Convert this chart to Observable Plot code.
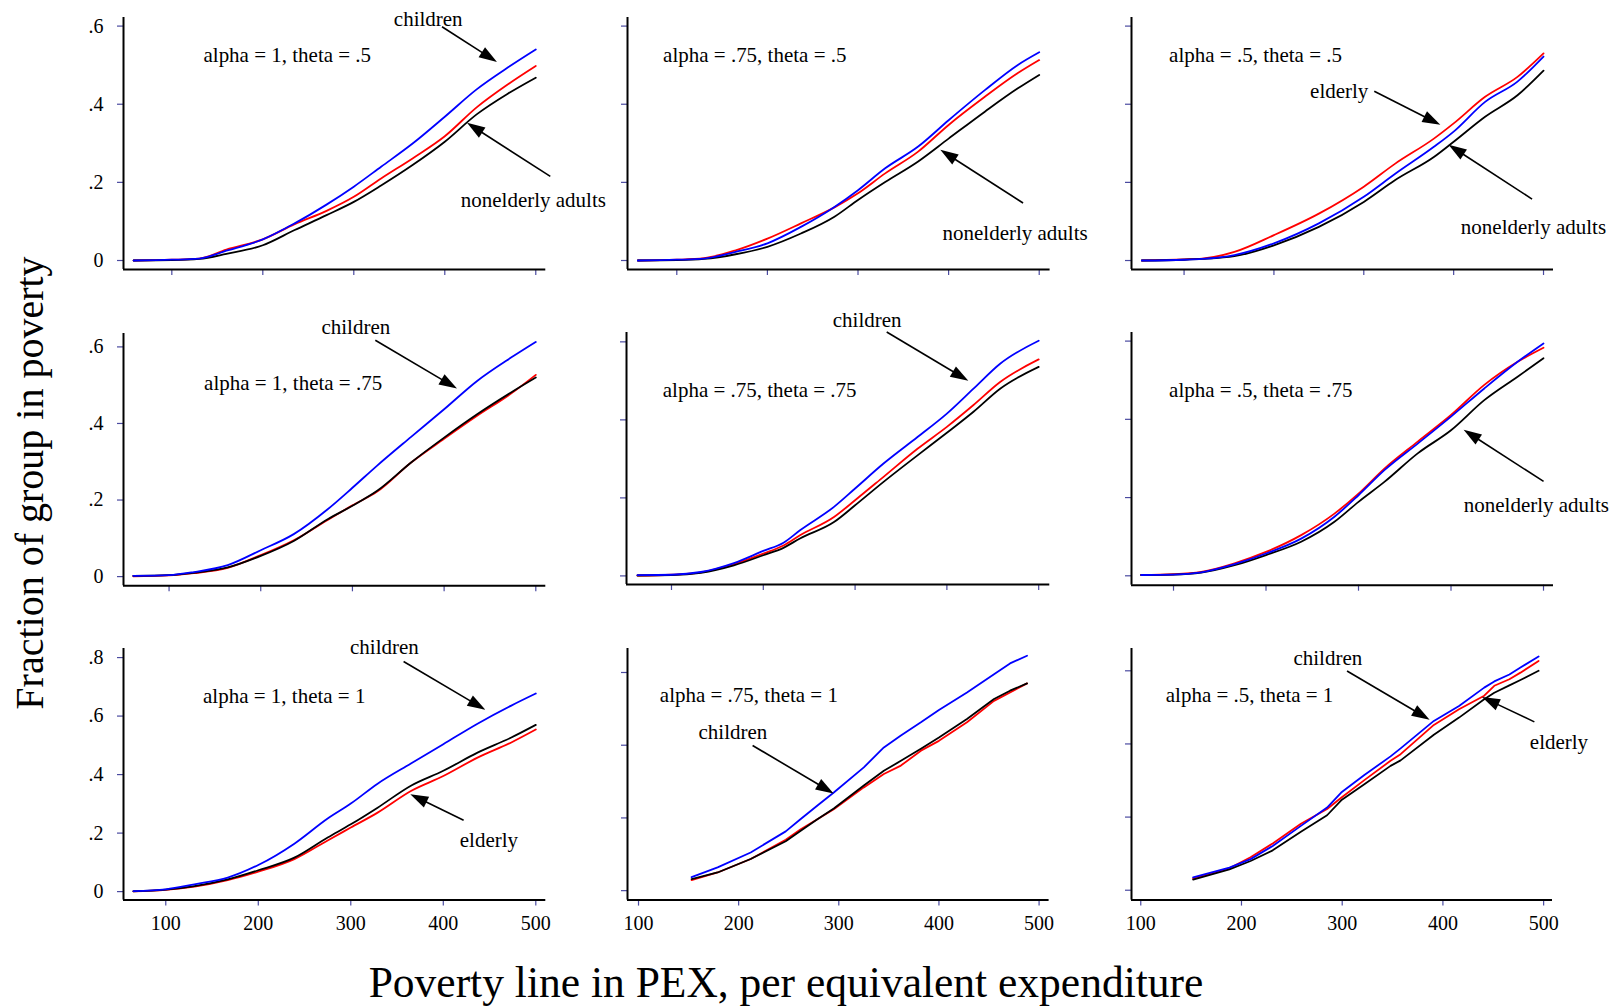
<!DOCTYPE html>
<html>
<head>
<meta charset="utf-8">
<script src="https://cdn.jsdelivr.net/npm/d3@7"></script>
<script src="https://cdn.jsdelivr.net/npm/@observablehq/plot@0.6"></script>
<style>
  html, body { margin: 0; padding: 0; background: white; }
  #root { position: relative; width: 1616px; height: 1008px; overflow: hidden; background: white; font-family: "Liberation Serif", "DejaVu Serif", serif; }
  #ytitle { position: absolute; left: 30px; top: 483px; transform: translate(-50%, -50%) rotate(-90deg); font-size: 40px; line-height: 1; white-space: nowrap; color: black; }
  #xtitle { position: absolute; left: 786px; top: 983px; transform: translate(-50%, -50%); font-size: 43.5px; line-height: 1; white-space: nowrap; color: black; }
</style>
</head>
<body>
<div id="root">
  <div id="ytitle">Fraction of group in poverty</div>
  <div id="xtitle">Poverty line in PEX, per equivalent expenditure</div>
</div>
<script>
// ---------------- data ----------------
const xTicks = [100, 200, 300, 400, 500];
const yTicksTopMid = [0, 0.2, 0.4, 0.6];
const yTicksBottomLeft = [0, 0.2, 0.4, 0.6, 0.8];

// alpha = 1, theta = .5
const x_a1_t05 = [58, 100, 130, 160, 200, 235, 270, 300, 330, 365, 400, 435, 470, 500];
const children_a1_t05 = [0, 0.002, 0.005, 0.025, 0.054, 0.095, 0.143, 0.189, 0.24, 0.30, 0.368, 0.438, 0.495, 0.540];
const elderly_a1_t05 = [0, 0.002, 0.005, 0.028, 0.054, 0.093, 0.127, 0.163, 0.21, 0.262, 0.318, 0.392, 0.452, 0.498];
const adults_a1_t05 = [0, 0.001, 0.004, 0.017, 0.039, 0.078, 0.116, 0.150, 0.192, 0.245, 0.304, 0.374, 0.428, 0.468];

// alpha = .75, theta = .5
const x_a075_t05 = [57, 100, 130, 165, 200, 237, 274, 300, 330, 366, 400, 440, 476, 500];
const children_a075_t05 = [0, 0.002, 0.005, 0.022, 0.044, 0.086, 0.137, 0.18, 0.236, 0.291, 0.359, 0.436, 0.50, 0.533];
const elderly_a075_t05 = [0, 0.002, 0.006, 0.026, 0.056, 0.095, 0.136, 0.172, 0.223, 0.278, 0.347, 0.419, 0.479, 0.513];
const adults_a075_t05 = [0, 0.001, 0.004, 0.016, 0.035, 0.069, 0.112, 0.155, 0.201, 0.253, 0.312, 0.381, 0.44, 0.475];

// alpha = .5, theta = .5
const x_a05_t05 = [53, 100, 120, 156, 200, 250, 300, 335, 378, 400, 435, 471, 500];
const children_a05_t05 = [0, 0.002, 0.004, 0.014, 0.044, 0.095, 0.163, 0.222, 0.291, 0.33, 0.406, 0.458, 0.522];
const elderly_a05_t05 = [0, 0.003, 0.005, 0.022, 0.065, 0.12, 0.189, 0.248, 0.312, 0.351, 0.419, 0.47, 0.530];
const adults_a05_t05 = [0, 0.002, 0.004, 0.011, 0.039, 0.086, 0.15, 0.206, 0.265, 0.304, 0.368, 0.423, 0.486];

// alpha = 1, theta = .75
const x_a1_t075 = [61, 100, 127, 164, 200, 236, 273, 300, 327, 364, 400, 436, 473, 500];
const children_a1_t075 = [0.002, 0.004, 0.012, 0.03, 0.069, 0.111, 0.176, 0.232, 0.29, 0.365, 0.437, 0.511, 0.572, 0.613];
const elderly_a1_t075 = [0.001, 0.003, 0.009, 0.023, 0.056, 0.095, 0.148, 0.186, 0.222, 0.298, 0.36, 0.42, 0.478, 0.527];
const adults_a1_t075 = [0.002, 0.004, 0.010, 0.024, 0.054, 0.093, 0.15, 0.185, 0.224, 0.298, 0.363, 0.424, 0.481, 0.52];

// alpha = .75, theta = .75
const x_a075_t075 = [63, 100, 132, 168, 200, 222, 240, 277, 300, 331, 368, 400, 429, 458, 500];
const children_a075_t075 = [0.002, 0.003, 0.010, 0.033, 0.064, 0.085, 0.117, 0.177, 0.224, 0.288, 0.356, 0.416, 0.48, 0.544, 0.603];
const elderly_a075_t075 = [0.001, 0.003, 0.009, 0.030, 0.057, 0.078, 0.104, 0.151, 0.194, 0.254, 0.326, 0.382, 0.438, 0.497, 0.555];
const adults_a075_t075 = [0.001, 0.002, 0.008, 0.027, 0.053, 0.072, 0.096, 0.138, 0.181, 0.241, 0.309, 0.367, 0.421, 0.48, 0.536];

// alpha = .5, theta = .75
const x_a05_t075 = [65, 100, 130, 166, 200, 238, 274, 300, 328, 364, 400, 436, 472, 500];
const children_a05_t075 = [0.002, 0.003, 0.009, 0.030, 0.057, 0.095, 0.151, 0.206, 0.27, 0.338, 0.407, 0.479, 0.547, 0.594];
const elderly_a05_t075 = [0.002, 0.004, 0.010, 0.032, 0.061, 0.104, 0.159, 0.21, 0.274, 0.343, 0.411, 0.488, 0.547, 0.583];
const adults_a05_t075 = [0.002, 0.003, 0.008, 0.027, 0.053, 0.087, 0.138, 0.189, 0.24, 0.313, 0.372, 0.449, 0.509, 0.556];

// alpha = 1, theta = 1
const x_a1_t1 = [65, 100, 131, 167, 200, 239, 275, 300, 329, 365, 400, 437, 473, 500];
const children_a1_t1 = [0.002, 0.008, 0.025, 0.048, 0.091, 0.164, 0.25, 0.301, 0.369, 0.438, 0.504, 0.574, 0.635, 0.677];
const elderly_a1_t1 = [0.001, 0.006, 0.017, 0.039, 0.068, 0.111, 0.175, 0.219, 0.27, 0.344, 0.395, 0.458, 0.509, 0.554];
const adults_a1_t1 = [0.001, 0.007, 0.019, 0.042, 0.073, 0.116, 0.185, 0.23, 0.287, 0.362, 0.413, 0.475, 0.526, 0.57];

// alpha = .75, theta = 1
const x_a075_t1 = [153, 179, 212, 247, 262, 279, 295, 325, 345, 362, 382, 400, 428, 455, 471, 488];
const children_a075_t1 = [0.037, 0.064, 0.105, 0.163, 0.197, 0.235, 0.27, 0.339, 0.394, 0.427, 0.463, 0.497, 0.545, 0.595, 0.625, 0.646];
const elderly_a075_t1 = [0.029, 0.05, 0.087, 0.14, 0.169, 0.197, 0.224, 0.284, 0.321, 0.344, 0.385, 0.412, 0.463, 0.522, 0.545, 0.57];
const adults_a075_t1 = [0.032, 0.05, 0.087, 0.136, 0.165, 0.197, 0.226, 0.289, 0.33, 0.357, 0.39, 0.421, 0.472, 0.527, 0.55, 0.57];

// alpha = .5, theta = 1
const x_a05_t1 = [152, 188, 209, 231, 259, 285, 299, 322, 348, 358, 391, 416, 441, 451, 466, 477, 495];
const children_a05_t1 = [0.035, 0.062, 0.085, 0.121, 0.176, 0.226, 0.267, 0.315, 0.366, 0.388, 0.463, 0.504, 0.554, 0.571, 0.59, 0.609, 0.639];
const elderly_a05_t1 = [0.032, 0.06, 0.09, 0.128, 0.182, 0.222, 0.253, 0.301, 0.354, 0.372, 0.452, 0.495, 0.532, 0.559, 0.577, 0.595, 0.627];
const adults_a05_t1 = [0.029, 0.057, 0.08, 0.109, 0.16, 0.205, 0.246, 0.29, 0.34, 0.355, 0.425, 0.472, 0.522, 0.54, 0.56, 0.575, 0.6];

// annotation labels and arrows (data units)
const labels_a1_t05 = [
  {text: "alpha = 1, theta = .5", x: 134.8, y: 0.526},
  {text: "children", x: 344, y: 0.618},
  {text: "nonelderly adults", x: 417.6, y: 0.154}
];
const arrows_a1_t05 = [
  {x1: 397.5, y1: 0.597, x2: 457.9, y2: 0.507},
  {x1: 516.5, y1: 0.214, x2: 425, y2: 0.351}
];
const labels_a075_t05 = [
  {text: "alpha = .75, theta = .5", x: 84.9, y: 0.526},
  {text: "nonelderly adults", x: 393.3, y: 0.07}
];
const arrows_a075_t05 = [
  {x1: 482.7, y1: 0.146, x2: 391.4, y2: 0.282}
];
const labels_a05_t05 = [
  {text: "alpha = .5, theta = .5", x: 83.3, y: 0.526},
  {text: "elderly", x: 240.2, y: 0.434},
  {text: "nonelderly adults", x: 408, y: 0.086}
];
const arrows_a05_t05 = [
  {x1: 312.2, y1: 0.432, x2: 385.7, y2: 0.346},
  {x1: 487.8, y1: 0.156, x2: 394.9, y2: 0.295}
];
const labels_a1_t075 = [
  {text: "alpha = 1, theta = .75", x: 138.2, y: 0.505},
  {text: "children", x: 266.2, y: 0.650}
];
const arrows_a1_t075 = [
  {x1: 325.5, y1: 0.616, x2: 414.6, y2: 0.49}
];
const labels_a075_t075 = [
  {text: "alpha = .75, theta = .75", x: 90.5, y: 0.476},
  {text: "children", x: 275.7, y: 0.656}
];
const arrows_a075_t075 = [
  {x1: 335, y1: 0.624, x2: 423.9, y2: 0.499}
];
const labels_a05_t075 = [
  {text: "alpha = .5, theta = .75", x: 95.2, y: 0.475},
  {text: "nonelderly adults", x: 413.8, y: 0.181}
];
const arrows_a05_t075 = [
  {x1: 500.6, y1: 0.24, x2: 414.2, y2: 0.372}
];
const labels_a1_t1 = [
  {text: "alpha = 1, theta = 1", x: 140.3, y: 0.669},
  {text: "children", x: 299.2, y: 0.834},
  {text: "elderly", x: 417.8, y: 0.177}
];
const arrows_a1_t1 = [
  {x1: 357.6, y1: 0.785, x2: 446, y2: 0.62},
  {x1: 422.5, y1: 0.242, x2: 364.9, y2: 0.331}
];
const labels_a075_t1 = [
  {text: "alpha = .75, theta = 1", x: 121.3, y: 0.536},
  {text: "children", x: 159.9, y: 0.435}
];
const arrows_a075_t1 = [
  {x1: 214.4, y1: 0.398, x2: 295.3, y2: 0.266}
];
const labels_a05_t1 = [
  {text: "alpha = .5, theta = 1", x: 124.8, y: 0.532},
  {text: "children", x: 251.6, y: 0.634},
  {text: "elderly", x: 486.3, y: 0.404}
];
const arrows_a05_t1 = [
  {x1: 305.3, y1: 0.598, x2: 387.3, y2: 0.465},
  {x1: 491.3, y1: 0.459, x2: 439.3, y2: 0.527}
];

// ---------------- layout (pixel frame of each panel) ----------------
const panels = [
  {L: 122.7, R: 545, T: 17.3, B: 269.3, xd: [46.9, 511], yd: [-0.023, 0.622], yt: yTicksTopMid, yl: true, xl: false,
   x: x_a1_t05, c: children_a1_t05, e: elderly_a1_t05, a: adults_a1_t05, labels: labels_a1_t05, arrows: arrows_a1_t05, curve: "monotone-x"},
  {L: 626.7, R: 1049.3, T: 17.3, B: 269.3, xd: [45.6, 512], yd: [-0.023, 0.622], yt: yTicksTopMid, yl: false, xl: false,
   x: x_a075_t05, c: children_a075_t05, e: elderly_a075_t05, a: adults_a075_t05, labels: labels_a075_t05, arrows: arrows_a075_t05, curve: "monotone-x"},
  {L: 1130.7, R: 1552.7, T: 17.3, B: 269.3, xd: [41.5, 511.1], yd: [-0.023, 0.622], yt: yTicksTopMid, yl: false, xl: false,
   x: x_a05_t05, c: children_a05_t05, e: elderly_a05_t05, a: adults_a05_t05, labels: labels_a05_t05, arrows: arrows_a05_t05, curve: "monotone-x"},
  {L: 122.7, R: 545, T: 332.7, B: 585, xd: [50.3, 510.9], yd: [-0.024, 0.635], yt: yTicksTopMid, yl: true, xl: false,
   x: x_a1_t075, c: children_a1_t075, e: elderly_a1_t075, a: adults_a1_t075, labels: labels_a1_t075, arrows: arrows_a1_t075, curve: "monotone-x"},
  {L: 626, R: 1049.3, T: 332.3, B: 584.3, xd: [51, 512.1], yd: [-0.022, 0.624], yt: yTicksTopMid, yl: false, xl: false,
   x: x_a075_t075, c: children_a075_t075, e: elderly_a075_t075, a: adults_a075_t075, labels: labels_a075_t075, arrows: arrows_a075_t075, curve: "monotone-x"},
  {L: 1130.7, R: 1552.7, T: 332.3, B: 585, xd: [54.6, 510.8], yd: [-0.024, 0.622], yt: yTicksTopMid, yl: false, xl: false,
   x: x_a05_t075, c: children_a05_t075, e: elderly_a05_t075, a: adults_a05_t075, labels: labels_a05_t075, arrows: arrows_a05_t075, curve: "monotone-x"},
  {L: 122.7, R: 545, T: 647.7, B: 899.3, xd: [54.3, 510.8], yd: [-0.029, 0.831], yt: yTicksBottomLeft, yl: true, xl: true,
   x: x_a1_t1, c: children_a1_t1, e: elderly_a1_t1, a: adults_a1_t1, labels: labels_a1_t1, arrows: arrows_a1_t1, curve: "monotone-x"},
  {L: 626.7, R: 1048.3, T: 647.7, B: 899.3, xd: [89, 510], yd: [-0.026, 0.666], yt: yTicksTopMid, yl: false, xl: true,
   x: x_a075_t1, c: children_a075_t1, e: elderly_a075_t1, a: adults_a075_t1, labels: labels_a075_t1, arrows: arrows_a075_t1, curve: "linear"},
  {L: 1130.7, R: 1551.7, T: 647.7, B: 899.3, xd: [90.8, 508.8], yd: [-0.027, 0.661], yt: yTicksTopMid, yl: false, xl: true,
   x: x_a05_t1, c: children_a05_t1, e: elderly_a05_t1, a: adults_a05_t1, labels: labels_a05_t1, arrows: arrows_a05_t1, curve: "linear"}
];

const tickColor = "#4a4aa0";
const fmtY = d => d === 0 ? "0" : d3.format(".1f")(d).replace(/^0/, "");

function arrowMark(arrs) {
  return (index, scales) => {
    const sx = scales.x, sy = scales.y;
    const g = d3.create("svg:g").attr("aria-label", "arrows");
    for (const a of arrs) {
      const x1 = sx(a.x1), y1 = sy(a.y1), x2 = sx(a.x2), y2 = sy(a.y2);
      const dx = x2 - x1, dy = y2 - y1, len = Math.hypot(dx, dy);
      const ux = dx / len, uy = dy / len;
      const hl = 18, hw = 6;
      const bx = x2 - ux * hl, by = y2 - uy * hl;
      g.append("line").attr("x1", x1).attr("y1", y1).attr("x2", bx + ux * 2).attr("y2", by + uy * 2)
        .attr("stroke", "black").attr("stroke-width", 1.6);
      g.append("path")
        .attr("d", `M${x2},${y2}L${bx - uy * hw},${by + ux * hw}L${bx + uy * hw},${by - ux * hw}Z`)
        .attr("fill", "black");
    }
    return g.node();
  };
}

const root = document.getElementById("root");
const ml = 70, mr = 90, mt = 20, mb = 50;

for (const p of panels) {
  const rows = [];
  p.x.forEach((xv, i) => {
    rows.push({x: xv, y: p.e[i], g: "elderly"});
  });
  p.x.forEach((xv, i) => {
    rows.push({x: xv, y: p.a[i], g: "adults"});
  });
  p.x.forEach((xv, i) => {
    rows.push({x: xv, y: p.c[i], g: "children"});
  });
  const W = (p.R - p.L) + ml + mr;
  const H = (p.B - p.T) + mt + mb;
  const chart = Plot.plot({
    width: W, height: H,
    marginLeft: ml, marginRight: mr, marginTop: mt, marginBottom: mb,
    style: {background: "none", overflow: "visible", fontFamily: "Liberation Serif, serif", fontSize: "20px", color: "black"},
    x: {domain: p.xd, ticks: xTicks, tickSize: 6, tickPadding: 10, label: null,
        tickFormat: p.xl ? d3.format("d") : () => ""},
    y: {domain: p.yd, ticks: p.yt, tickSize: 6, tickPadding: 14, label: null,
        tickFormat: p.yl ? fmtY : () => ""},
    marks: [
      Plot.line(rows.filter(d => d.g === "elderly"), {x: "x", y: "y", stroke: "#ff0000", strokeWidth: 1.8, curve: p.curve}),
      Plot.line(rows.filter(d => d.g === "adults"), {x: "x", y: "y", stroke: "#000000", strokeWidth: 1.8, curve: p.curve}),
      Plot.line(rows.filter(d => d.g === "children"), {x: "x", y: "y", stroke: "#0000ff", strokeWidth: 1.8, curve: p.curve}),
      Plot.ruleX([p.xd[0]], {stroke: "black", strokeWidth: 2}),
      Plot.ruleY([p.yd[0]], {stroke: "black", strokeWidth: 2}),
      Plot.text(p.labels, {x: "x", y: "y", text: "text", textAnchor: "start", fontSize: 21, fill: "black", fontFamily: "Liberation Serif, serif"}),
      arrowMark(p.arrows)
    ]
  });
  d3.select(chart).selectAll('[aria-label$="tick"] path, [aria-label$="tick"], .tick line')
    .attr("stroke", tickColor).attr("stroke-width", 1.2);
  chart.style.position = "absolute";
  chart.style.left = (p.L - ml) + "px";
  chart.style.top = (p.T - mt) + "px";
  root.appendChild(chart);
}
</script>
</body>
</html>
